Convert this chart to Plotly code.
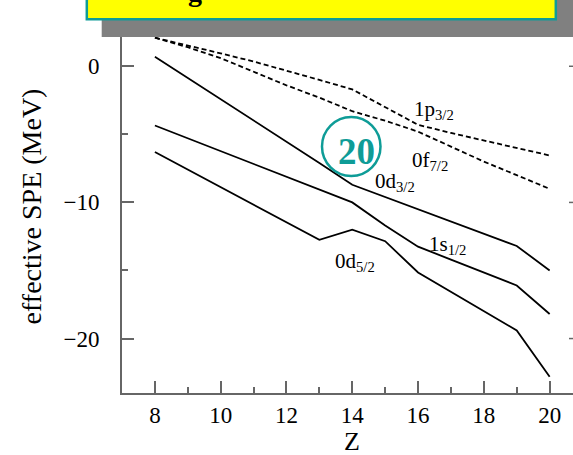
import plotly.graph_objects as go

# Proton number and effective single-particle energies (MeV)
Z = [8, 9, 10, 11, 12, 13, 14, 15, 16, 17, 18, 19, 20]
spe_0d52 = [-6.3, -7.6, -8.9, -10.2, -11.5, -12.75, -12.0, -12.85, -15.15, -16.55, -17.95, -19.4, -22.8]
spe_1s12 = [-4.35, -5.3, -6.25, -7.2, -8.1, -9.05, -10.0, -11.7, -13.25, -14.2, -15.15, -16.1, -18.2]
spe_0d32 = [0.7, -0.85, -2.4, -3.95, -5.5, -7.1, -8.7, -9.6, -10.5, -11.4, -12.3, -13.2, -15.0]
spe_0f72 = [2.1, 1.4, 0.6, -0.4, -1.4, -2.3, -3.3, -4.0, -4.8, -5.9, -7.0, -8.0, -9.0]
spe_1p32 = [2.1, 1.55, 0.95, 0.35, -0.3, -1.0, -1.7, -3.0, -4.3, -4.9, -5.45, -6.0, -6.55]

x_ticks = [8, 10, 12, 14, 16, 18, 20]
y_ticks = [0, -10, -20]
y_tick_text = ["0", "\u221210", "\u221220"]

W, H = 573, 455
ML, MT, MB = 122, 20, 62
PW, PH = W - ML, H - MT - MB

def px(x):
    return (x - ML) / PW

def py(y):
    return (H - MB - y) / PH

SERIF = "Liberation Serif, Times New Roman, serif"
TEAL = "#0e9c97"
AXIS = "#666666"

fig = go.Figure()
solid = dict(color="black", width=1.8)
dashed = dict(color="black", width=1.8, dash="5px,3px")
for name, ys, ln in [
    ("0d5/2", spe_0d52, solid),
    ("1s1/2", spe_1s12, solid),
    ("0d3/2", spe_0d32, solid),
    ("0f7/2", spe_0f72, dashed),
    ("1p3/2", spe_1p32, dashed),
]:
    fig.add_trace(go.Scatter(x=Z, y=ys, mode="lines", line=ln, name=name,
                             showlegend=False, hoverinfo="skip"))

labels = [
    ("1p<sub>3/2</sub>", 434, 110),
    ("0f<sub>7/2</sub>", 430, 161),
    ("0d<sub>3/2</sub>", 395, 182),
    ("1s<sub>1/2</sub>", 447, 245),
    ("0d<sub>5/2</sub>", 355, 262),
]
annotations = []
for txt, lx, ly in labels:
    annotations.append(dict(text=txt, x=px(lx), y=py(ly), xref="paper", yref="paper",
                            showarrow=False, xanchor="center", yanchor="middle",
                            font=dict(family=SERIF, size=21, color="black")))

# x-axis title
annotations.append(dict(text="Z", x=px(352), y=py(441), xref="paper", yref="paper",
                        showarrow=False, xanchor="center", yanchor="middle",
                        font=dict(family=SERIF, size=26, color="black")))
# circled 20
annotations.append(dict(text="<b>20</b>", x=px(356), y=py(151), xref="paper", yref="paper",
                        showarrow=False, xanchor="center", yanchor="middle",
                        font=dict(family=SERIF, size=37, color=TEAL)))
# heading box text (bottom part)
annotations.append(dict(text="<b>g</b>", x=px(195), y=py(9), xref="paper", yref="paper",
                        showarrow=False, xanchor="center", yanchor="bottom",
                        font=dict(family=SERIF, size=28, color="black")))

shapes = [
    # shadow behind heading box
    dict(type="rect", xref="paper", yref="paper", x0=px(101.7), x1=px(600), y0=py(37), y1=py(-20),
         fillcolor="#808080", line=dict(width=0), layer="above"),
    # heading box
    dict(type="rect", xref="paper", yref="paper", x0=px(86.8), x1=px(555.8), y0=py(19.2), y1=py(-20),
         fillcolor="#ffff00", line=dict(color=TEAL, width=2.5), layer="above"),
    # circle around 20
    dict(type="circle", xref="paper", yref="paper", x0=px(322), x1=px(380.5), y0=py(176), y1=py(117),
         line=dict(color=TEAL, width=2.5), layer="above"),
]
# inward ticks of the right-hand frame, just inside the window edge
for v in y_ticks:
    shapes.append(dict(type="line", xref="paper", yref="y", x0=px(569), x1=1.0, y0=v, y1=v,
                       line=dict(color=AXIS, width=1.5)))

fig.update_layout(
    width=W, height=H,
    margin=dict(l=ML, r=0, t=MT, b=MB, pad=0),
    paper_bgcolor="white", plot_bgcolor="white",
    annotations=annotations, shapes=shapes,
    xaxis=dict(range=[7, 20.71], tickmode="array", tickvals=x_ticks, automargin=False,
               ticks="inside", ticklen=12, tickwidth=1.5, tickcolor=AXIS,
               showline=True, linecolor=AXIS, linewidth=2, showgrid=False, zeroline=False,
               minor=dict(dtick=1, tick0=0, ticks="inside", ticklen=6, tickwidth=1.5, tickcolor=AXIS),
               tickfont=dict(family=SERIF, size=23, color="black"), ticklabelstandoff=0),
    yaxis=dict(range=[-24, 3.4], tickmode="array", tickvals=y_ticks, ticktext=y_tick_text,
               automargin=False,
               ticks="inside", ticklen=12, tickwidth=1.5, tickcolor=AXIS,
               showline=True, linecolor=AXIS, linewidth=2, showgrid=False, zeroline=False,
               minor=dict(dtick=5, tick0=0, ticks="inside", ticklen=6, tickwidth=1.5, tickcolor=AXIS),
               tickfont=dict(family=SERIF, size=23, color="black"), ticklabelstandoff=16,
               title=dict(text="effective SPE (MeV)", font=dict(family=SERIF, size=28, color="black"),
                          standoff=14)),
)

fig.write_html("out.html")
